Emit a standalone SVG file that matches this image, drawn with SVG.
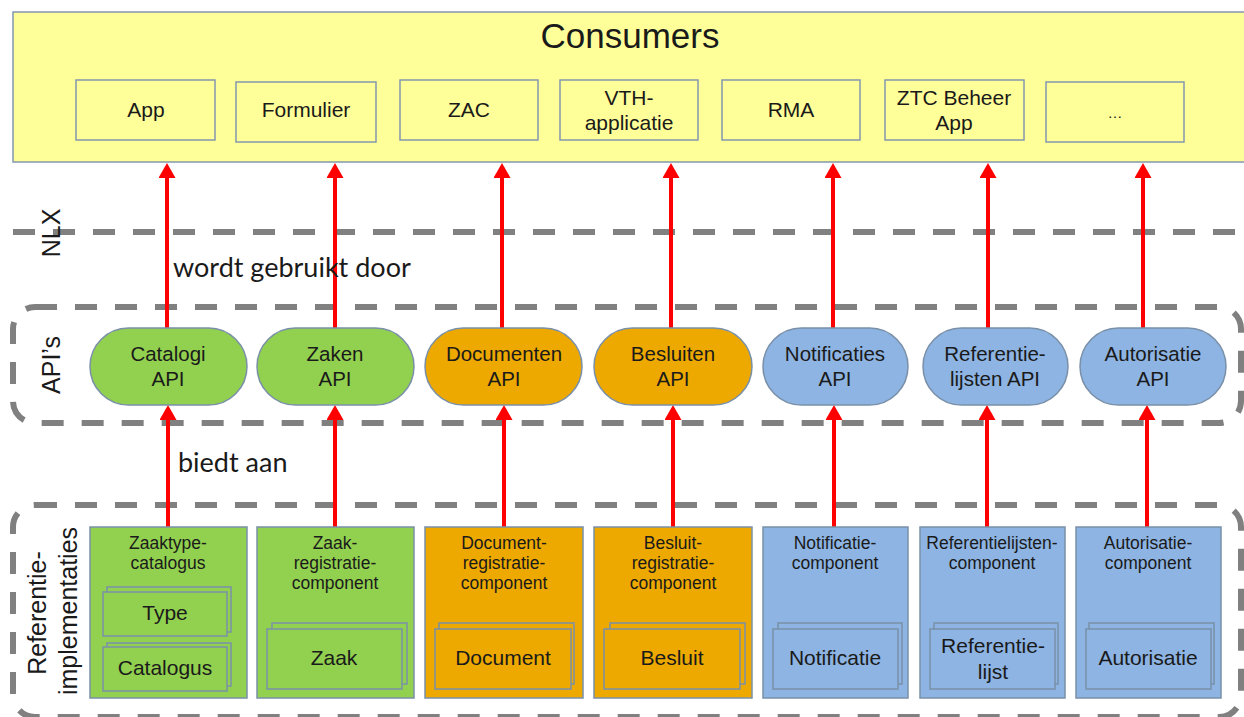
<svg xmlns="http://www.w3.org/2000/svg" width="1244" height="717" viewBox="0 0 1244 717">
<defs>
<marker id="ah" viewBox="0 0 15 17" refX="1" refY="8.5" markerWidth="15" markerHeight="17" orient="auto" markerUnits="userSpaceOnUse"><path d="M0,0 L15,8.5 L0,17 z" fill="#FF0000"/></marker>
</defs>
<style>
text{font-family:"Liberation Sans",Arial,sans-serif;fill:#1a1a1a;text-anchor:middle}
.cbox{fill:#FFFF99;stroke:#8497B0;stroke-width:1.5}
.ct{font-size:21px}
.api{stroke:#7A90A8;stroke-width:1.5}
.at{font-size:20.5px}
.comp{stroke:#7A90A8;stroke-width:1.5}
.cht{font-size:17.5px}
.inner{fill:none;stroke:#7A90A8;stroke-width:1.5}
.it{font-size:21px}
.g{fill:#92D050}
.o{fill:#EDA900}
.b{fill:#8DB4E2}
.dash{fill:none;stroke:#808080;stroke-width:6;stroke-dasharray:22 18}
.arr{stroke:#FF0000;stroke-width:4;marker-end:url(#ah)}
.lbl{font-family:Lato,"Liberation Sans",sans-serif;font-size:27px;text-anchor:start}
.side{font-size:25px}
</style>

<g id="layers">
<line class="dash" x1="13" y1="232" x2="1244" y2="232"/>
<rect class="dash" x="13" y="307" width="1228" height="116" rx="22"/>
<rect class="dash" x="13" y="505" width="1228" height="212" rx="22"/>
<text class="side" transform="translate(60,233) rotate(-90)">NLX</text>
<text class="side" transform="translate(60,365) rotate(-90)">API’s</text>
<text class="side" transform="translate(46,613) rotate(-90)">Referentie-</text>
<text class="side" transform="translate(77,611) rotate(-90)">implementaties</text>
</g>

<g id="consumers">
<rect class="cbox" x="13" y="12" width="1240" height="150"/>
<text x="630" y="48" style="font-size:35px">Consumers</text>
</g>
<g id="c-app"><rect class="cbox" x="76" y="80" width="139" height="60"/><text class="ct" x="146" y="117">App</text></g>
<g id="c-formulier"><rect class="cbox" x="236" y="82" width="140" height="60"/><text class="ct" x="306" y="117">Formulier</text></g>
<g id="c-zac"><rect class="cbox" x="400" y="80" width="138" height="60"/><text class="ct" x="469" y="117">ZAC</text></g>
<g id="c-vth"><rect class="cbox" x="560" y="80" width="138" height="60"/><text class="ct" x="629" y="105">VTH-</text><text class="ct" x="629" y="130">applicatie</text></g>
<g id="c-rma"><rect class="cbox" x="722" y="80" width="138" height="60"/><text class="ct" x="791" y="117">RMA</text></g>
<g id="c-ztc"><rect class="cbox" x="885" y="80" width="139" height="60"/><text class="ct" x="954" y="105">ZTC Beheer</text><text class="ct" x="954" y="130">App</text></g>
<g id="c-more"><rect class="cbox" x="1046" y="82" width="138" height="60"/><text x="1115" y="118" style="font-size:15px">…</text></g>

<g id="connectors">
<line class="arr" x1="167" y1="328" x2="167" y2="177"/>
<line class="arr" x1="335" y1="328" x2="335" y2="177"/>
<line class="arr" x1="502" y1="328" x2="502" y2="177"/>
<line class="arr" x1="671" y1="328" x2="671" y2="177"/>
<line class="arr" x1="833" y1="328" x2="833" y2="177"/>
<line class="arr" x1="988" y1="328" x2="988" y2="177"/>
<line class="arr" x1="1143" y1="328" x2="1143" y2="177"/>
<line class="arr" x1="168" y1="527" x2="168" y2="419"/>
<line class="arr" x1="335" y1="527" x2="335" y2="419"/>
<line class="arr" x1="504" y1="527" x2="504" y2="419"/>
<line class="arr" x1="673" y1="527" x2="673" y2="419"/>
<line class="arr" x1="834" y1="527" x2="834" y2="419"/>
<line class="arr" x1="987" y1="527" x2="987" y2="419"/>
<line class="arr" x1="1147" y1="527" x2="1147" y2="419"/>
<text class="lbl" x="173" y="277">wordt gebruikt door</text>
<text class="lbl" x="178" y="472">biedt aan</text>
</g>

<g id="api-catalogi"><rect class="api g" x="90" y="328" width="157" height="77" rx="38.5"/><text class="at" x="168" y="361">Catalogi</text><text class="at" x="168" y="386">API</text></g>
<g id="api-zaken"><rect class="api g" x="257" y="328" width="157" height="77" rx="38.5"/><text class="at" x="335" y="361">Zaken</text><text class="at" x="335" y="386">API</text></g>
<g id="api-documenten"><rect class="api o" x="425" y="328" width="157" height="77" rx="38.5"/><text class="at" x="504" y="361">Documenten</text><text class="at" x="504" y="386">API</text></g>
<g id="api-besluiten"><rect class="api o" x="594" y="328" width="158" height="77" rx="38.5"/><text class="at" x="673" y="361">Besluiten</text><text class="at" x="673" y="386">API</text></g>
<g id="api-notificaties"><rect class="api b" x="763" y="328" width="145" height="77" rx="38.5"/><text class="at" x="835" y="361">Notificaties</text><text class="at" x="835" y="386">API</text></g>
<g id="api-referentielijsten"><rect class="api b" x="923" y="328" width="145" height="77" rx="38.5"/><text class="at" x="995" y="361">Referentie-</text><text class="at" x="995" y="386">lijsten API</text></g>
<g id="api-autorisatie"><rect class="api b" x="1080" y="328" width="146" height="77" rx="38.5"/><text class="at" x="1153" y="361">Autorisatie</text><text class="at" x="1153" y="386">API</text></g>

<g id="comp-ztc">
<rect class="comp g" x="90" y="527" width="157" height="171"/>
<text class="cht" x="168" y="549">Zaaktype-</text><text class="cht" x="168" y="569">catalogus</text>
<rect class="inner" x="107" y="587" width="124" height="45"/><rect class="comp g" x="103" y="592" width="124" height="44"/>
<text class="it" x="165" y="620">Type</text>
<rect class="inner" x="107" y="643" width="124" height="43"/><rect class="comp g" x="103" y="647" width="124" height="44"/>
<text class="it" x="165" y="675">Catalogus</text>
</g>
<g id="comp-zrc">
<rect class="comp g" x="257" y="527" width="157" height="171"/>
<text class="cht" x="335" y="549">Zaak-</text><text class="cht" x="335" y="569">registratie-</text><text class="cht" x="335" y="589">component</text>
<rect class="inner" x="272" y="623" width="135" height="61"/><rect class="comp g" x="267" y="629" width="135" height="60"/>
<text class="it" x="334" y="665">Zaak</text>
</g>
<g id="comp-drc">
<rect class="comp o" x="425" y="527" width="158" height="171"/>
<text class="cht" x="504" y="549">Document-</text><text class="cht" x="504" y="569">registratie-</text><text class="cht" x="504" y="589">component</text>
<rect class="inner" x="439" y="623" width="135" height="61"/><rect class="comp o" x="435" y="629" width="136" height="60"/>
<text class="it" x="503" y="665">Document</text>
</g>
<g id="comp-brc">
<rect class="comp o" x="594" y="527" width="158" height="171"/>
<text class="cht" x="673" y="549">Besluit-</text><text class="cht" x="673" y="569">registratie-</text><text class="cht" x="673" y="589">component</text>
<rect class="inner" x="610" y="623" width="135" height="61"/><rect class="comp o" x="604" y="629" width="136" height="60"/>
<text class="it" x="672" y="665">Besluit</text>
</g>
<g id="comp-nrc">
<rect class="comp b" x="763" y="527" width="145" height="171"/>
<text class="cht" x="835" y="549">Notificatie-</text><text class="cht" x="835" y="569">component</text>
<rect class="inner" x="778" y="623" width="124" height="61"/><rect class="comp b" x="773" y="629" width="125" height="60"/>
<text class="it" x="835" y="665">Notificatie</text>
</g>
<g id="comp-vrl">
<rect class="comp b" x="920" y="527" width="145" height="171"/>
<text class="cht" x="992" y="549">Referentielijsten-</text><text class="cht" x="992" y="569">component</text>
<rect class="inner" x="934" y="623" width="124" height="61"/><rect class="comp b" x="930" y="629" width="125" height="60"/>
<text class="it" x="993" y="653">Referentie-</text><text class="it" x="993" y="679">lijst</text>
</g>
<g id="comp-ac">
<rect class="comp b" x="1076" y="527" width="145" height="171"/>
<text class="cht" x="1148" y="549">Autorisatie-</text><text class="cht" x="1148" y="569">component</text>
<rect class="inner" x="1089" y="623" width="125" height="61"/><rect class="comp b" x="1086" y="629" width="125" height="60"/>
<text class="it" x="1148" y="665">Autorisatie</text>
</g>
</svg>
